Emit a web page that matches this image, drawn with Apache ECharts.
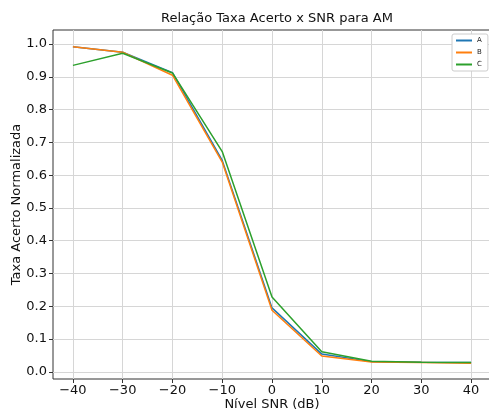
<!DOCTYPE html>
<html><head><meta charset="utf-8">
<script src="https://cdn.jsdelivr.net/npm/echarts@6/dist/echarts.min.js"></script>
<style>html,body{margin:0;padding:0;background:#fff}#c{width:489px;height:410px}</style>
</head><body><div id="c"></div>
<script>
const snr = [-40, -30, -20, -10, 0, 10, 20, 30, 40];
const serieA = [0.992, 0.975, 0.913, 0.645, 0.195, 0.054, 0.031, 0.029, 0.028];
const serieB = [0.992, 0.975, 0.905, 0.640, 0.188, 0.048, 0.030, 0.028, 0.026];
const serieC = [0.935, 0.972, 0.912, 0.672, 0.228, 0.061, 0.032, 0.029, 0.028];
const xTicks = [-40, -30, -20, -10, 0, 10, 20, 30, 40];
const yTicks = [0, 0.1, 0.2, 0.3, 0.4, 0.5, 0.6, 0.7, 0.8, 0.9, 1.0];
const names = ['A', 'B', 'C'];
const colors = ['#1f77b4', '#ff7f0e', '#2ca02c'];

const font = 'DejaVu Sans';
const chart = echarts.init(document.getElementById('c'), null, {renderer: 'canvas'});
const mk = (n, vals, i) => ({
  name: n, type: 'line', data: snr.map((x, k) => [x, vals[k]]),
  symbol: 'none', lineStyle: {width: 1.5, color: colors[i]}, itemStyle: {color: colors[i]},
  emphasis: {disabled: true}, animation: false
});
chart.setOption({
  animation: false,
  title: {text: 'Relação Taxa Acerto x SNR para AM', left: 272, top: 7, textAlign: 'center',
    textStyle: {fontFamily: font, fontSize: 13, fontWeight: 'normal', color: '#111'}},
  legend: {data: names, left: 452, top: 34, orient: 'vertical', itemWidth: 16, itemHeight: 2, itemGap: 5,
    padding: [3, 6, 3, 4], borderColor: '#ccc', borderWidth: 1, borderRadius: 2, backgroundColor: '#fff',
    icon: 'rect', textStyle: {fontFamily: font, fontSize: 7, color: '#222'}},
  grid: {left: 53, right: -2, top: 30, bottom: 31, show: true, borderColor: '#333', borderWidth: 1,
    containLabel: false, outerBoundsMode: 'none'},
  xAxis: {type: 'value', min: -44, max: 44,
    name: 'Nível SNR (dB)', nameLocation: 'middle', nameGap: 19, nameMoveOverlap: false,
    nameTextStyle: {fontFamily: font, fontSize: 13, color: '#111'},
    axisLine: {show: false, onZero: false},
    axisTick: {show: true, customValues: xTicks, length: 4, lineStyle: {color: '#333'}},
    axisLabel: {customValues: xTicks, fontFamily: font, fontSize: 13, color: '#111', margin: 5,
      formatter: v => String(v).replace('-', '\u2212')},
    splitLine: {show: true, lineStyle: {color: '#d6d6d6', width: 1}}},
  yAxis: {type: 'value', min: -0.022, max: 1.043,
    name: 'Taxa Acerto Normalizada', nameLocation: 'middle', nameGap: 30, nameMoveOverlap: false,
    nameTextStyle: {fontFamily: font, fontSize: 13, color: '#111'},
    axisLine: {show: false, onZero: false},
    axisTick: {show: true, customValues: yTicks, length: 4, lineStyle: {color: '#333'}},
    axisLabel: {customValues: yTicks, fontFamily: font, fontSize: 13, color: '#111', margin: 6,
      formatter: v => v.toFixed(1)},
    splitLine: {show: true, lineStyle: {color: '#d6d6d6', width: 1}}},
  series: [mk('A', serieA, 0), mk('B', serieB, 1), mk('C', serieC, 2)]
});
</script></body></html>
